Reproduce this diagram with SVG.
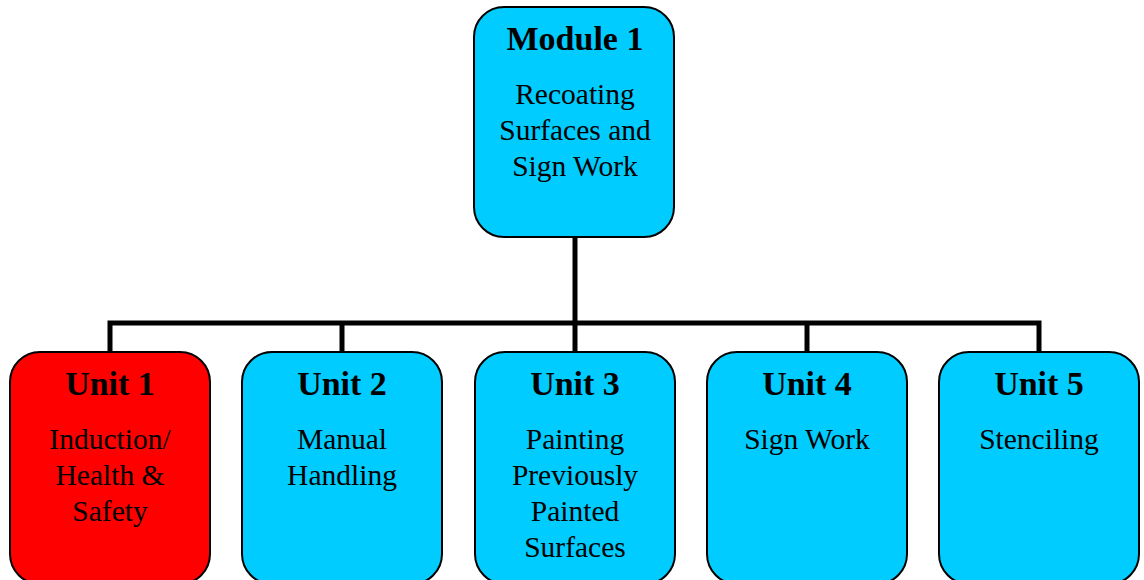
<svg xmlns="http://www.w3.org/2000/svg" width="1144" height="580" viewBox="0 0 1144 580">
<style>
.box{fill:#00CCFF;stroke:#000;stroke-width:2}
.red{fill:#FF0000}
.t{font-family:"Liberation Serif","DejaVu Serif",serif;font-weight:bold;font-size:34px;text-anchor:middle;fill:#000}
.b{font-family:"Liberation Serif","DejaVu Serif",serif;font-size:29.5px;text-anchor:middle;fill:#000}
.c{fill:none;stroke:#000;stroke-width:5}
</style>
<rect width="1144" height="580" fill="#fff"/>
<g id="connectors">
<path class="c" d="M575,237 V323"/>
<path class="c" d="M110,352 V323 H1039 V352"/>
<path class="c" d="M342,323 V352 M575,323 V352 M807,323 V352"/>
</g>
<g id="module1">
<rect class="box" x="474" y="7" width="200" height="230" rx="30"/>
<text class="t" x="575" y="50">Module 1</text>
<text class="b" x="575" y="104">Recoating</text>
<text class="b" x="575" y="140">Surfaces and</text>
<text class="b" x="575" y="176">Sign Work</text>
</g>
<g id="unit1">
<rect class="box red" x="10" y="352" width="200" height="232" rx="30"/>
<text class="t" x="110" y="395">Unit 1</text>
<text class="b" x="110" y="449">Induction/</text>
<text class="b" x="110" y="485">Health &amp;</text>
<text class="b" x="110" y="521">Safety</text>
</g>
<g id="unit2">
<rect class="box" x="242" y="352" width="200" height="232" rx="30"/>
<text class="t" x="342" y="395">Unit 2</text>
<text class="b" x="342" y="449">Manual</text>
<text class="b" x="342" y="485">Handling</text>
</g>
<g id="unit3">
<rect class="box" x="475" y="352" width="200" height="232" rx="30"/>
<text class="t" x="575" y="395">Unit 3</text>
<text class="b" x="575" y="449">Painting</text>
<text class="b" x="575" y="485">Previously</text>
<text class="b" x="575" y="521">Painted</text>
<text class="b" x="575" y="557">Surfaces</text>
</g>
<g id="unit4">
<rect class="box" x="707" y="352" width="200" height="232" rx="30"/>
<text class="t" x="807" y="395">Unit 4</text>
<text class="b" x="807" y="449">Sign Work</text>
</g>
<g id="unit5">
<rect class="box" x="939" y="352" width="200" height="232" rx="30"/>
<text class="t" x="1039" y="395">Unit 5</text>
<text class="b" x="1039" y="449">Stenciling</text>
</g>
</svg>
